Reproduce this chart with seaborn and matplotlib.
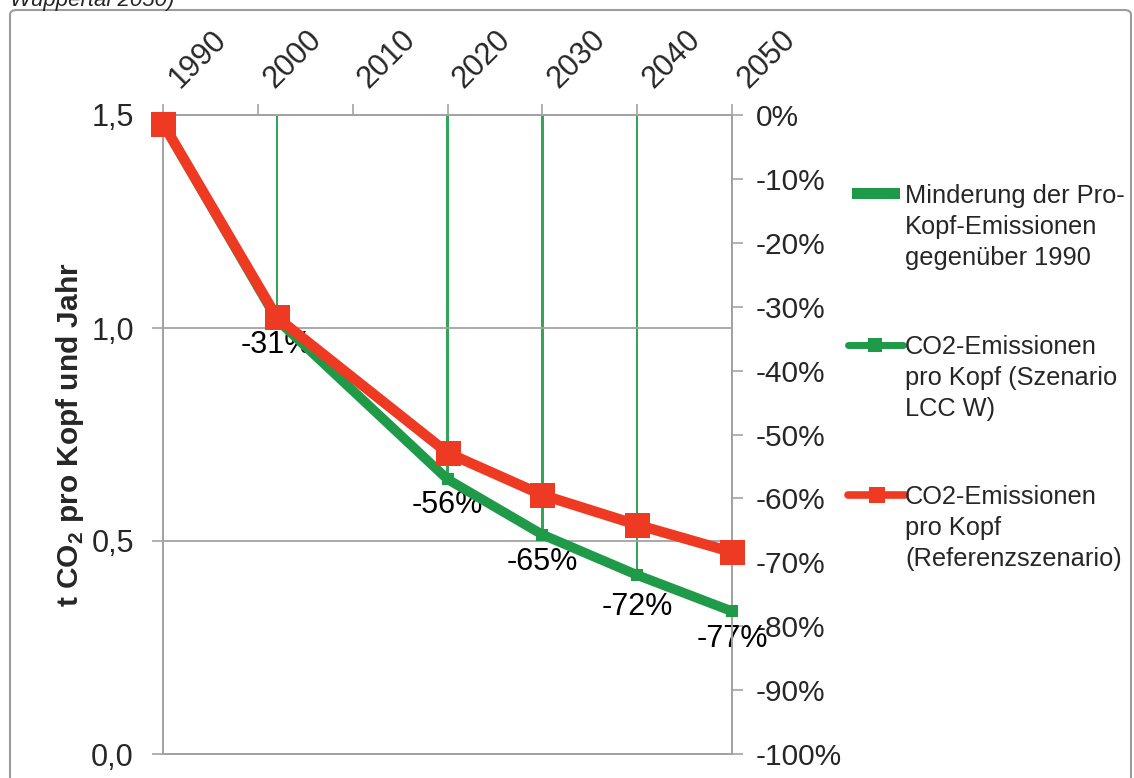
import matplotlib
matplotlib.use("Agg")
import matplotlib.pyplot as plt
import seaborn as sns
from matplotlib.lines import Line2D
from matplotlib.patches import Rectangle, FancyBboxPatch
from matplotlib.ticker import FixedLocator, FuncFormatter

# data
years = [1990, 2002, 2020, 2030, 2040, 2050]
lcc_w = [1.48, 1.02, 0.645, 0.515, 0.42, 0.335]        # Szenario LCC W
referenz = [1.48, 1.025, 0.707, 0.608, 0.538, 0.474]   # Referenzszenario
bar_years = [2002, 2020, 2030, 2040, 2050]
minderung = [-31, -56, -65, -72, -77]                  # % vs. 1990
decades = [1990, 2000, 2010, 2020, 2030, 2040, 2050]
left_ticks = [0.0, 0.5, 1.0, 1.5]
right_ticks = list(range(-100, 1, 10))

GREEN = "#1f9a48"
RED = "#ee3a23"
GREY = "#a3a3a3"

sns.set_style("white")
plt.rcParams["font.family"] = ["Liberation Sans", "DejaVu Sans"]
plt.rcParams["mathtext.fontset"] = "custom"
plt.rcParams["mathtext.rm"] = "Liberation Sans:bold"
plt.rcParams["mathtext.bf"] = "Liberation Sans:bold"
plt.rcParams["axes.unicode_minus"] = False

W, H = 1134, 778
fig = plt.figure(figsize=(W / 100, H / 100), dpi=100)
ax = fig.add_axes([163 / W, 1 - 754 / H, (732 - 163) / W, (754 - 115) / H])
ax2 = ax.twinx()

# thin bars (Minderung) on the percent axis
sns.barplot(x=bar_years, y=minderung, ax=ax2, native_scale=True, width=0.026,
            color="#34a458", saturation=1, errorbar=None, linewidth=0)
ax2.bar_label(ax2.containers[0], labels=[f"{v}%" for v in minderung],
              padding=12, fontsize=22, color="black")

# lines on the t CO2 axis
sns.lineplot(x=years, y=lcc_w, ax=ax, color=GREEN, lw=7, marker="s",
             markersize=9, markeredgewidth=0, clip_on=False, zorder=3)
sns.lineplot(x=years, y=referenz, ax=ax, color=RED, lw=7.5, marker="s",
             markersize=18, markeredgewidth=0, clip_on=False, zorder=4)

ax.set_zorder(ax2.get_zorder() + 1)
ax.patch.set_visible(False)

ax.set_xlim(1990, 2050)
ax.set_ylim(0, 1.5)
ax2.set_ylim(-100, 0)

# top year axis
ax.xaxis.tick_top()
ax.set_xticks(decades)
ax.set_xticklabels([str(d) for d in decades])
ax.tick_params(axis="x", top=True, bottom=False, labeltop=True, labelbottom=False,
               length=8, width=1.2, color=GREY, labelsize=22, pad=7)
for lab in ax.get_xticklabels():
    lab.set_rotation(45)
    lab.set_ha("left")
    lab.set_va("bottom")

ax.yaxis.set_major_locator(FixedLocator(left_ticks))
ax.yaxis.set_major_formatter(FuncFormatter(lambda v, p: f"{v:.1f}".replace(".", ",")))
ax.tick_params(axis="y", left=True, length=8, width=1.2, color=GREY, labelsize=22, pad=13)
ax.grid(axis="y", color=GREY, lw=1.3)
ax.grid(axis="x", visible=False)

ax2.yaxis.set_major_locator(FixedLocator(right_ticks))
ax2.yaxis.set_major_formatter(FuncFormatter(lambda v, p: f"{int(round(v))}%"))
ax2.tick_params(axis="y", right=True, length=8, width=1.2, color=GREY, labelsize=21.5, pad=9)
ax2.set_xlabel("")
ax2.set_ylabel("")

for a in (ax, ax2):
    for s in a.spines.values():
        s.set_color(GREY)
        s.set_linewidth(1.3)

ax.set_xlabel("")
ax.set_ylabel(r"t CO$_2$ pro Kopf und Jahr", fontsize=21.5, fontweight="bold")
ax.yaxis.set_label_coords(-0.135, 0.5)

# legend, drawn by hand so the handle sits on the first text line
def fx(x):
    return x / W

def fy(y):
    return 1 - y / H

fig.add_artist(Rectangle((fx(852), fy(199)), fx(900) - fx(852), 11 / H,
                         transform=fig.transFigure, color=GREEN, lw=0))
fig.add_artist(Line2D([fx(848), fx(903)], [fy(345), fy(345)], transform=fig.transFigure,
                      color=GREEN, lw=5, solid_capstyle="round"))
fig.add_artist(Line2D([fx(875)], [fy(345)], transform=fig.transFigure, color=GREEN,
                      marker="s", markersize=10, markeredgewidth=0, lw=0))
fig.add_artist(Line2D([fx(848), fx(905)], [fy(495), fy(495)], transform=fig.transFigure,
                      color=RED, lw=5.5, solid_capstyle="round"))
fig.add_artist(Line2D([fx(877)], [fy(495)], transform=fig.transFigure, color=RED,
                      marker="s", markersize=12, markeredgewidth=0, lw=0))

legend_texts = [
    (184, "Minderung der Pro-\nKopf-Emissionen\ngegenüber 1990"),
    (335, "CO2-Emissionen\npro Kopf (Szenario\nLCC W)"),
    (485, "CO2-Emissionen\npro Kopf\n(Referenzszenario)"),
]
for ytop, txt in legend_texts:
    fig.text(fx(905), fy(ytop), txt, fontsize=18.3, va="top", ha="left", linespacing=1.36)

# cut-off caption line above the frame and the outer frame
fig.text(fx(10), fy(6), "Wuppertal 2050)", fontsize=16, style="italic", va="baseline")
fig.add_artist(FancyBboxPatch((fx(10), -0.05), fx(1131) - fx(10), fy(10) + 0.05,
                              boxstyle="round,pad=0,rounding_size=0.006",
                              transform=fig.transFigure, fill=False, ec="#9c9c9c", lw=1.5))

fig.savefig("out.png", dpi=100)
